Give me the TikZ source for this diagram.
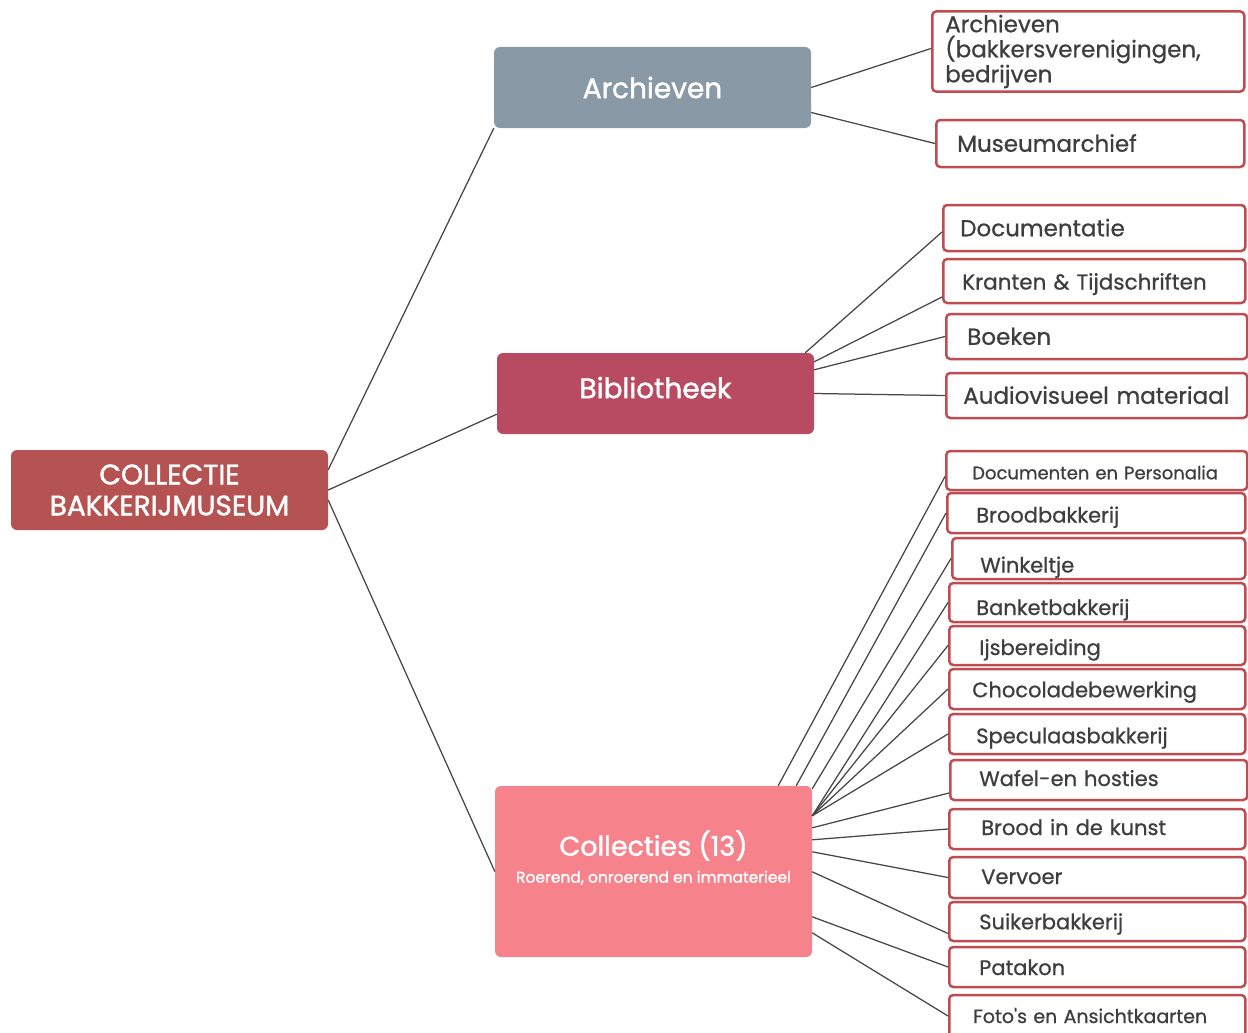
\documentclass[tikz,border=0pt]{standalone}
\usepackage{fontspec}
\setmainfont{Poppins}
\newfontfamily\mainfont{Poppins}[FakeBold=1.6]
\newfontfamily\leaffont{Poppins}[FakeBold=0.7]
\usepackage{tikz}
\definecolor{rootred}{RGB}{181,82,82}
\definecolor{archgrey}{RGB}{137,154,166}
\definecolor{bibred}{RGB}{184,74,98}
\definecolor{collpink}{RGB}{246,131,139}
\definecolor{leafred}{RGB}{192,76,82}
\definecolor{leaftext}{RGB}{62,62,62}
\definecolor{linegrey}{RGB}{70,70,70}
\tikzstyle{main} = [rectangle, rounded corners=6pt, text=white, minimum width=317pt, minimum height=81pt, align=center, font=\mainfont\fontsize{28}{31}\selectfont]
\tikzstyle{leaf} = [draw=leafred, line width=2.5pt, rectangle, rounded corners=4pt, fill=white, text=leaftext, anchor=west, align=left, minimum height=40pt, text height=19pt, text depth=0pt, font=\leaffont\fontsize{21}{24}\selectfont]
\tikzstyle{big} = [text height=16.5pt, font=\leaffont\fontsize{23}{25}\selectfont]
\tikzstyle{tiny} = [text height=17.5pt, font=\leaffont\fontsize{18}{21}\selectfont]
\tikzstyle{link} = [draw=linegrey, line width=1.25pt]

\begin{document}
\begin{tikzpicture}[x=1pt, y=-1pt]
        \useasboundingbox (0,0) rectangle (1248,1033);
        % centre nodes
        \node [main, fill=rootred, minimum height=80pt] (root) at (169.5,490) {COLLECTIE\\BAKKERIJMUSEUM};
        \node [main, fill=archgrey] (arch) at (652.5,87.5) {\raisebox{-4pt}{Archieven}};
        \node [main, fill=bibred] (bib) at (655.5,393.5) {\raisebox{12pt}{Bibliotheek}};
        \node [main, fill=collpink, minimum height=171pt, text depth=30pt] (coll) at (653.5,871.5) {{\fontsize{27}{31}\selectfont Collecties (13)}\\[-4pt]{\fontsize{15.5}{18}\selectfont Roerend, onroerend en immaterieel}};

        % archieven
        \node [leaf, big, text height={}, text depth={}, minimum height=79pt, inner xsep=13pt, text width=286pt] (archBakkers) at (931,51.5) {Archieven\\(bakkersverenigingen,\\bedrijven};
        \node [leaf, big, minimum height=47pt, inner xsep=21pt, text width=266pt] (museumArchief) at (935,143.5) {Museumarchief};

        % bibliotheek
        \node [leaf, big, minimum height=46pt, inner xsep=17pt, text width=268pt] (documentatie) at (942,228) {Documentatie};
        \node [leaf, font=\leaffont\fontsize{21.5}{24}\selectfont, text height=17pt, minimum height=44pt, inner xsep=19pt, text width=264pt] (kranten) at (942,281) {Kranten \& Tijdschriften};
        \node [leaf, big, minimum height=45pt, inner xsep=21pt, text width=259pt] (boeken) at (945,336.5) {Boeken};
        \node [leaf, big, minimum height=45pt, inner xsep=17pt, text width=267pt] (audio) at (945,395.5) {Audiovisueel materiaal};

        % collecties
        \node [leaf, tiny, minimum height=39pt, inner xsep=26pt, text width=249pt] (docPersonalia) at (945,470.5) {Documenten en Personalia};
        \node [leaf, inner xsep=29pt, text width=240pt] (broodBakkerij) at (946,513) {Broodbakkerij};
        \node [leaf, text height=28pt, minimum height=41pt, inner xsep=28pt, text width=237pt] (winkeltje) at (951,558.5) {Winkeltje};
        \node [leaf, text height=25pt, minimum height=39pt, inner xsep=27pt, text width=242pt] (banketBakkerij) at (948,602.5) {Banketbakkerij};
        \node [leaf, minimum height=39pt, inner xsep=30pt, text width=236pt] (ijsBereiding) at (948,645.5) {Ijsbereiding};
        \node [leaf, text height=16.5pt, inner xsep=23pt, text width=250pt] (chocolade) at (948,689) {Chocoladebewerking};
        \node [leaf, text height=18.5pt, inner xsep=27pt, text width=242pt] (speculaas) at (948,734) {Speculaasbakkerij};
        \node [leaf, text height=12pt, inner xsep=29pt, text width=239pt] (wafel) at (949,780) {Wafel-en hosties};
        \node [leaf, text height=12pt, inner xsep=32pt, text width=232pt] (broodKunst) at (948,829) {Brood in de kunst};
        \node [leaf, text height=13pt, minimum height=41pt, inner xsep=32pt, text width=232pt] (vervoer) at (948,877.5) {Vervoer};
        \node [leaf, text height=15.5pt, minimum height=39pt, inner xsep=30pt, text width=236pt] (suikerBakkerij) at (948,921.5) {Suikerbakkerij};
        \node [leaf, text height=16pt, inner xsep=30pt, text width=236pt] (patakon) at (948,967) {Patakon};
        \node [leaf, font=\leaffont\fontsize{19}{22}\selectfont, text height=14pt, minimum height=42pt, inner xsep=24pt, text width=248pt] (fotos) at (948,1016) {Foto's en Ansichtkaarten};

        \path [link] ([yshift=-20pt]root.north east) edge (arch.south west);
        \path [link] (root.east) edge ([yshift=20pt]bib.south west);
        \path [link] ([yshift=-10pt]root.east) edge (coll.west);

        \path [link] (arch.east) edge ([yshift=3pt]archBakkers.west);
        \path [link] ([yshift=-25pt]arch.east) edge (museumArchief.west);

        \path [link] ([xshift=-9pt]bib.north east) edge ([yshift=-4pt]documentatie.west);
        \path [link] ([yshift=-9pt]bib.north east) edge ([yshift=-16pt]kranten.west);
        \path [link] ([yshift=-17pt]bib.north east) edge (boeken.west);
        \path [link] (bib.east) edge (audio.west);

        \path [link] ([xshift=-34pt]coll.north east) edge ([yshift=-6pt]docPersonalia.west);
        \path [link] ([xshift=-16pt]coll.north east) edge (broodBakkerij.west);
        \path [link] ([yshift=-3pt]coll.north east) edge (winkeltje.west);
        \path [link] ([yshift=-30pt]coll.north east) edge (banketBakkerij.west);
        \path [link] ([yshift=-30pt]coll.north east) edge (ijsBereiding.west);
        \path [link] ([yshift=-30pt]coll.north east) edge (chocolade.west);
        \path [link] ([yshift=-30pt]coll.north east) edge (speculaas.west);
        \path [link] ([yshift=-42pt]coll.north east) edge ([yshift=-13pt]wafel.west);
        \path [link] ([yshift=-54pt]coll.north east) edge (broodKunst.west);
        \path [link] ([yshift=-66pt]coll.north east) edge (vervoer.west);
        \path [link] ([yshift=-86pt]coll.north east) edge ([yshift=-12pt]suikerBakkerij.west);
        \path [link] ([yshift=-131pt]coll.north east) edge (patakon.west);
        \path [link] ([yshift=-147pt]coll.north east) edge (fotos.west);
    \end{tikzpicture}
\end{document}
